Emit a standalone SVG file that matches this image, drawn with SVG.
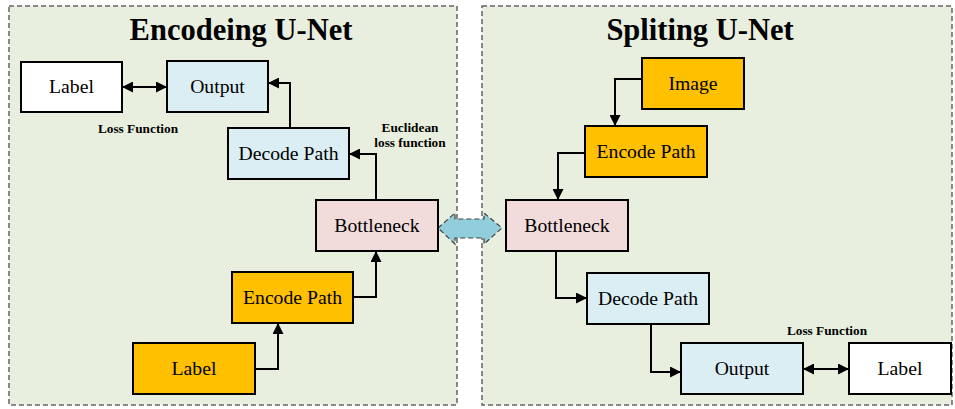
<svg xmlns="http://www.w3.org/2000/svg" width="955" height="409" viewBox="0 0 955 409">
<style>
.panel{fill:#e9efdf;stroke:#666;stroke-width:1.5;stroke-dasharray:5,3}
.box{stroke:#000;stroke-width:2}
.t{font-family:"Liberation Serif","Times New Roman",serif;font-size:19.7px;fill:#000;text-anchor:middle}
.title{font-family:"Liberation Serif","Times New Roman",serif;font-size:30.5px;font-weight:bold;fill:#000;text-anchor:middle}
.small{font-family:"Liberation Serif","Times New Roman",serif;font-size:13.3px;font-weight:bold;fill:#000;text-anchor:middle}
.c{fill:none;stroke:#000;stroke-width:2}
.white{fill:#fff}.blue{fill:#daeef3}.pink{fill:#f2dcdb}.orange{fill:#ffc000}
</style>
<defs>
<marker id="ah" viewBox="0 0 10 10" refX="10" refY="5" markerWidth="5.5" markerHeight="5.5" orient="auto-start-reverse" markerUnits="strokeWidth">
<path d="M0,0 L10,5 L0,10 z" fill="#000"/>
</marker>
</defs>
<rect width="955" height="409" fill="#fff"/>
<g id="panel-left">
<rect class="panel" x="9" y="6" width="448" height="399"/>
<text class="title" x="241" y="40">Encodeing U-Net</text>
</g>
<g id="panel-right">
<rect class="panel" x="482" y="6" width="470" height="399"/>
<text class="title" x="700" y="40">Spliting U-Net</text>
</g>
<g id="connectors">
<line class="c" x1="122" y1="87" x2="167" y2="87" marker-start="url(#ah)" marker-end="url(#ah)"/>
<polyline class="c" points="290,128 290,83 268,83" marker-end="url(#ah)"/>
<polyline class="c" points="376,200 376,154 349,154" marker-end="url(#ah)"/>
<polyline class="c" points="353,297 376,297 376,251" marker-end="url(#ah)"/>
<polyline class="c" points="255,369 278,369 278,323" marker-end="url(#ah)"/>
<polyline class="c" points="642,79 615,79 615,126" marker-end="url(#ah)"/>
<polyline class="c" points="585,153 558,153 558,200" marker-end="url(#ah)"/>
<polyline class="c" points="556,251 556,298 587,298" marker-end="url(#ah)"/>
<polyline class="c" points="651,324 651,372 681,372" marker-end="url(#ah)"/>
<line class="c" x1="803" y1="369" x2="849" y2="369" marker-start="url(#ah)" marker-end="url(#ah)"/>
<path id="link" d="M438,228 L455,213 L455,219 L484,219 L484,213 L502,228 L484,244 L484,238 L455,238 L455,244 Z" fill="#92cddc" stroke="#404040" stroke-width="1.2" stroke-dasharray="5,3"/>
</g>
<g id="label-left">
<rect class="box white" x="21" y="62" width="101" height="50"/>
<text class="t" x="71.5" y="93">Label</text>
</g>
<g id="output-left">
<rect class="box blue" x="167" y="61" width="101" height="51"/>
<text class="t" x="217.5" y="93">Output</text>
</g>
<g id="loss-left">
<text class="small" x="138" y="133">Loss Function</text>
</g>
<g id="decode-left">
<rect class="box blue" x="228" y="128" width="121" height="51"/>
<text class="t" x="288.5" y="160">Decode Path</text>
</g>
<g id="euclidean">
<text class="small" x="410" y="132">Euclidean</text>
<text class="small" x="410" y="147">loss function</text>
</g>
<g id="bottleneck-left">
<rect class="box pink" x="316" y="200" width="122" height="51"/>
<text class="t" x="377" y="232">Bottleneck</text>
</g>
<g id="encode-left">
<rect class="box orange" x="232" y="272" width="121" height="51"/>
<text class="t" x="292.5" y="304">Encode Path</text>
</g>
<g id="label-left-input">
<rect class="box orange" x="133" y="343" width="122" height="51"/>
<text class="t" x="194" y="375">Label</text>
</g>
<g id="image-right">
<rect class="box orange" x="642" y="58" width="102" height="51"/>
<text class="t" x="693" y="90">Image</text>
</g>
<g id="encode-right">
<rect class="box orange" x="585" y="126" width="122" height="51"/>
<text class="t" x="646" y="158">Encode Path</text>
</g>
<g id="bottleneck-right">
<rect class="box pink" x="506" y="200" width="122" height="51"/>
<text class="t" x="567" y="232">Bottleneck</text>
</g>
<g id="decode-right">
<rect class="box blue" x="587" y="273" width="122" height="51"/>
<text class="t" x="648" y="305">Decode Path</text>
</g>
<g id="output-right">
<rect class="box blue" x="681" y="343" width="122" height="51"/>
<text class="t" x="742" y="375">Output</text>
</g>
<g id="loss-right">
<text class="small" x="827" y="335">Loss Function</text>
</g>
<g id="label-right">
<rect class="box white" x="849" y="343" width="102" height="51"/>
<text class="t" x="900" y="375">Label</text>
</g>
</svg>
